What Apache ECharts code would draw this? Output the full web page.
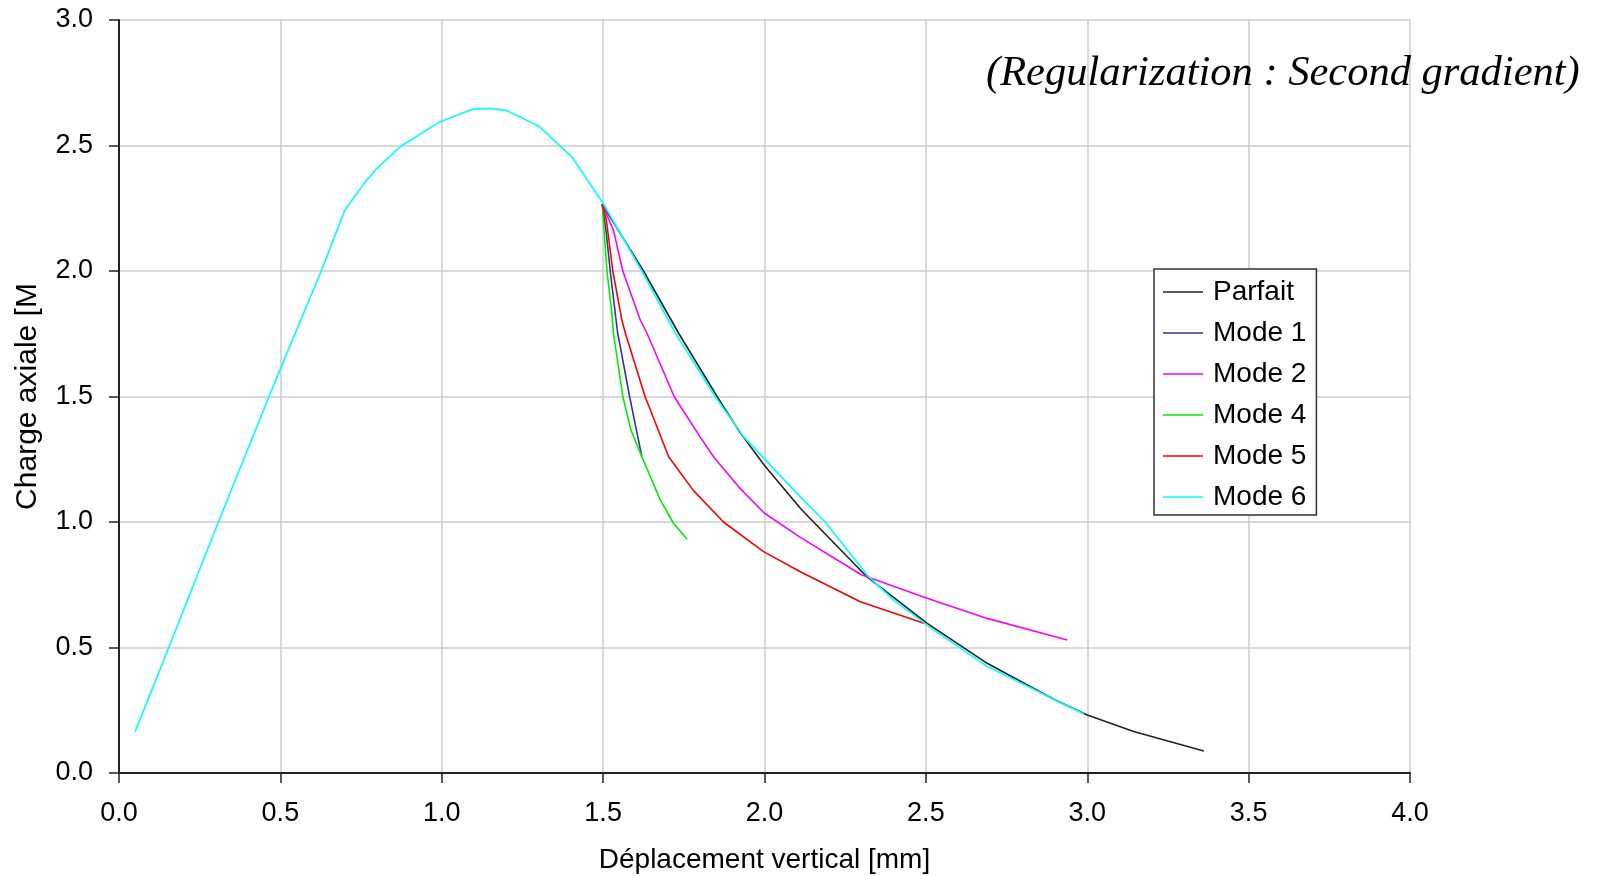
<!DOCTYPE html>
<html>
<head>
<meta charset="utf-8">
<script src="https://cdn.jsdelivr.net/npm/echarts@6/dist/echarts.min.js"></script>
<style>
html,body{margin:0;padding:0;background:#fff;}
#chart{width:1600px;height:876px;}
</style>
</head>
<body>
<div id="chart"></div>
<script>
// ---- data (x: Déplacement vertical [mm], y: Charge axiale [MPa]) ----
const seriesNames = ['Parfait', 'Mode 1', 'Mode 2', 'Mode 4', 'Mode 5', 'Mode 6'];
const parfait = [[1.497,2.267],[1.553,2.15],[1.625,2.0],[1.734,1.752],[1.853,1.5],[1.925,1.355],[2.0,1.225],[2.111,1.055],[2.152,1.0],[2.317,0.782],[2.504,0.596],[2.69,0.437],[2.896,0.294],[3.0,0.231],[3.144,0.165],[3.361,0.088]];
const mode1 = [[1.497,2.267],[1.51,2.15],[1.522,2.0],[1.545,1.752],[1.553,1.70],[1.582,1.5],[1.603,1.367],[1.62,1.26]];
const mode2 = [[1.497,2.267],[1.532,2.163],[1.561,2.0],[1.615,1.805],[1.636,1.752],[1.72,1.5],[1.80,1.34],[1.842,1.26],[1.92,1.14],[2.0,1.035],[2.111,0.939],[2.30,0.79],[2.504,0.696],[2.69,0.616],[2.938,0.53]];
const mode4 = [[1.497,2.267],[1.503,2.16],[1.512,2.0],[1.527,1.83],[1.532,1.752],[1.561,1.5],[1.586,1.367],[1.62,1.26],[1.677,1.088],[1.718,0.995],[1.76,0.931]];
const mode5 = [[1.497,2.267],[1.51,2.203],[1.53,2.0],[1.558,1.805],[1.569,1.752],[1.63,1.5],[1.703,1.26],[1.78,1.125],[1.873,1.0],[1.997,0.882],[2.111,0.802],[2.297,0.682],[2.494,0.597]];
const mode6 = [[0.05,0.165],[0.156,0.506],[0.308,1.0],[0.468,1.51],[0.5,1.61],[0.628,2.004],[0.664,2.124],[0.70,2.243],[0.768,2.363],[0.80,2.41],[0.871,2.495],[0.995,2.595],[1.098,2.645],[1.15,2.648],[1.202,2.639],[1.30,2.578],[1.403,2.455],[1.50,2.27],[1.62,2.0],[1.724,1.752],[1.847,1.5],[1.935,1.34],[2.111,1.10],[2.188,1.0],[2.318,0.789],[2.40,0.689],[2.524,0.57],[2.69,0.425],[2.896,0.294],[2.99,0.235]];
const seriesData = [parfait, mode1, mode2, mode4, mode5, mode6];
const seriesColors = ['#222222', '#333399', '#ff00ff', '#00ee00', '#ff0000', '#00ffff'];
const xAxisTitle = 'Déplacement vertical [mm]';
const yAxisTitle = 'Charge axiale [MPa]';
const noteText = '(Regularization : Second gradient)';

const chart = echarts.init(document.getElementById('chart'), null, {renderer: 'canvas'});
const fontSans = '"Liberation Sans", Arial, sans-serif';

const option = {
  backgroundColor: '#ffffff',
  animation: false,
  grid: {left: 119, right: 190, top: 20, bottom: 103, containLabel: false, outerBoundsMode: 'none'},
  xAxis: {
    type: 'value', min: 0, max: 4, interval: 0.5,
    name: xAxisTitle, nameLocation: 'middle', nameGap: 73,
    nameTextStyle: {fontFamily: fontSans, fontSize: 28, color: '#000'},
    axisLine: {show: true, onZero: false, lineStyle: {color: '#222', width: 2}},
    axisTick: {show: true, length: 10, inside: false, lineStyle: {color: '#222', width: 1.5}},
    axisLabel: {margin: 27, fontFamily: fontSans, fontSize: 27, color: '#000', formatter: v => v.toFixed(1)},
    splitLine: {show: true, lineStyle: {color: '#cccccc', width: 1.5}}
  },
  yAxis: {
    type: 'value', min: 0, max: 3, interval: 0.5,
    name: yAxisTitle, nameLocation: 'middle', nameGap: 76,
    nameTextStyle: {fontFamily: fontSans, fontSize: 30, color: '#000'},
    nameTruncate: {maxWidth: 240, ellipsis: ''},
    axisLine: {show: true, onZero: false, lineStyle: {color: '#222', width: 2}},
    axisTick: {show: true, length: 10, inside: false, lineStyle: {color: '#222', width: 1.5}},
    axisLabel: {margin: 26, fontFamily: fontSans, fontSize: 27, color: '#000', formatter: v => v.toFixed(1)},
    splitLine: {show: true, lineStyle: {color: '#cccccc', width: 1.5}}
  },
  legend: {
    orient: 'vertical', left: 1154, top: 269,
    padding: [9, 10, 4, 9],
    icon: 'rect',
    itemWidth: 40, itemHeight: 1.6, itemGap: 13,
    backgroundColor: '#ffffff', borderColor: '#333', borderWidth: 1.5, borderRadius: 0,
    textStyle: {fontFamily: fontSans, fontSize: 28, color: '#000', padding: [0, 0, 0, 5]},
    data: seriesNames
  },
  graphic: [{
    type: 'text', left: 986, top: 52, z: 100,
    style: {text: noteText, font: 'italic 42.5px "Liberation Serif", "Times New Roman", serif', fill: '#000'}
  }],
  series: seriesNames.map((n, i) => ({
    name: n, type: 'line', data: seriesData[i],
    symbol: 'none', showSymbol: false, smooth: false,
    color: seriesColors[i],
    lineStyle: {color: seriesColors[i], width: 1.6},
    emphasis: {disabled: true}
  }))
};
chart.setOption(option);
</script>
</body>
</html>
